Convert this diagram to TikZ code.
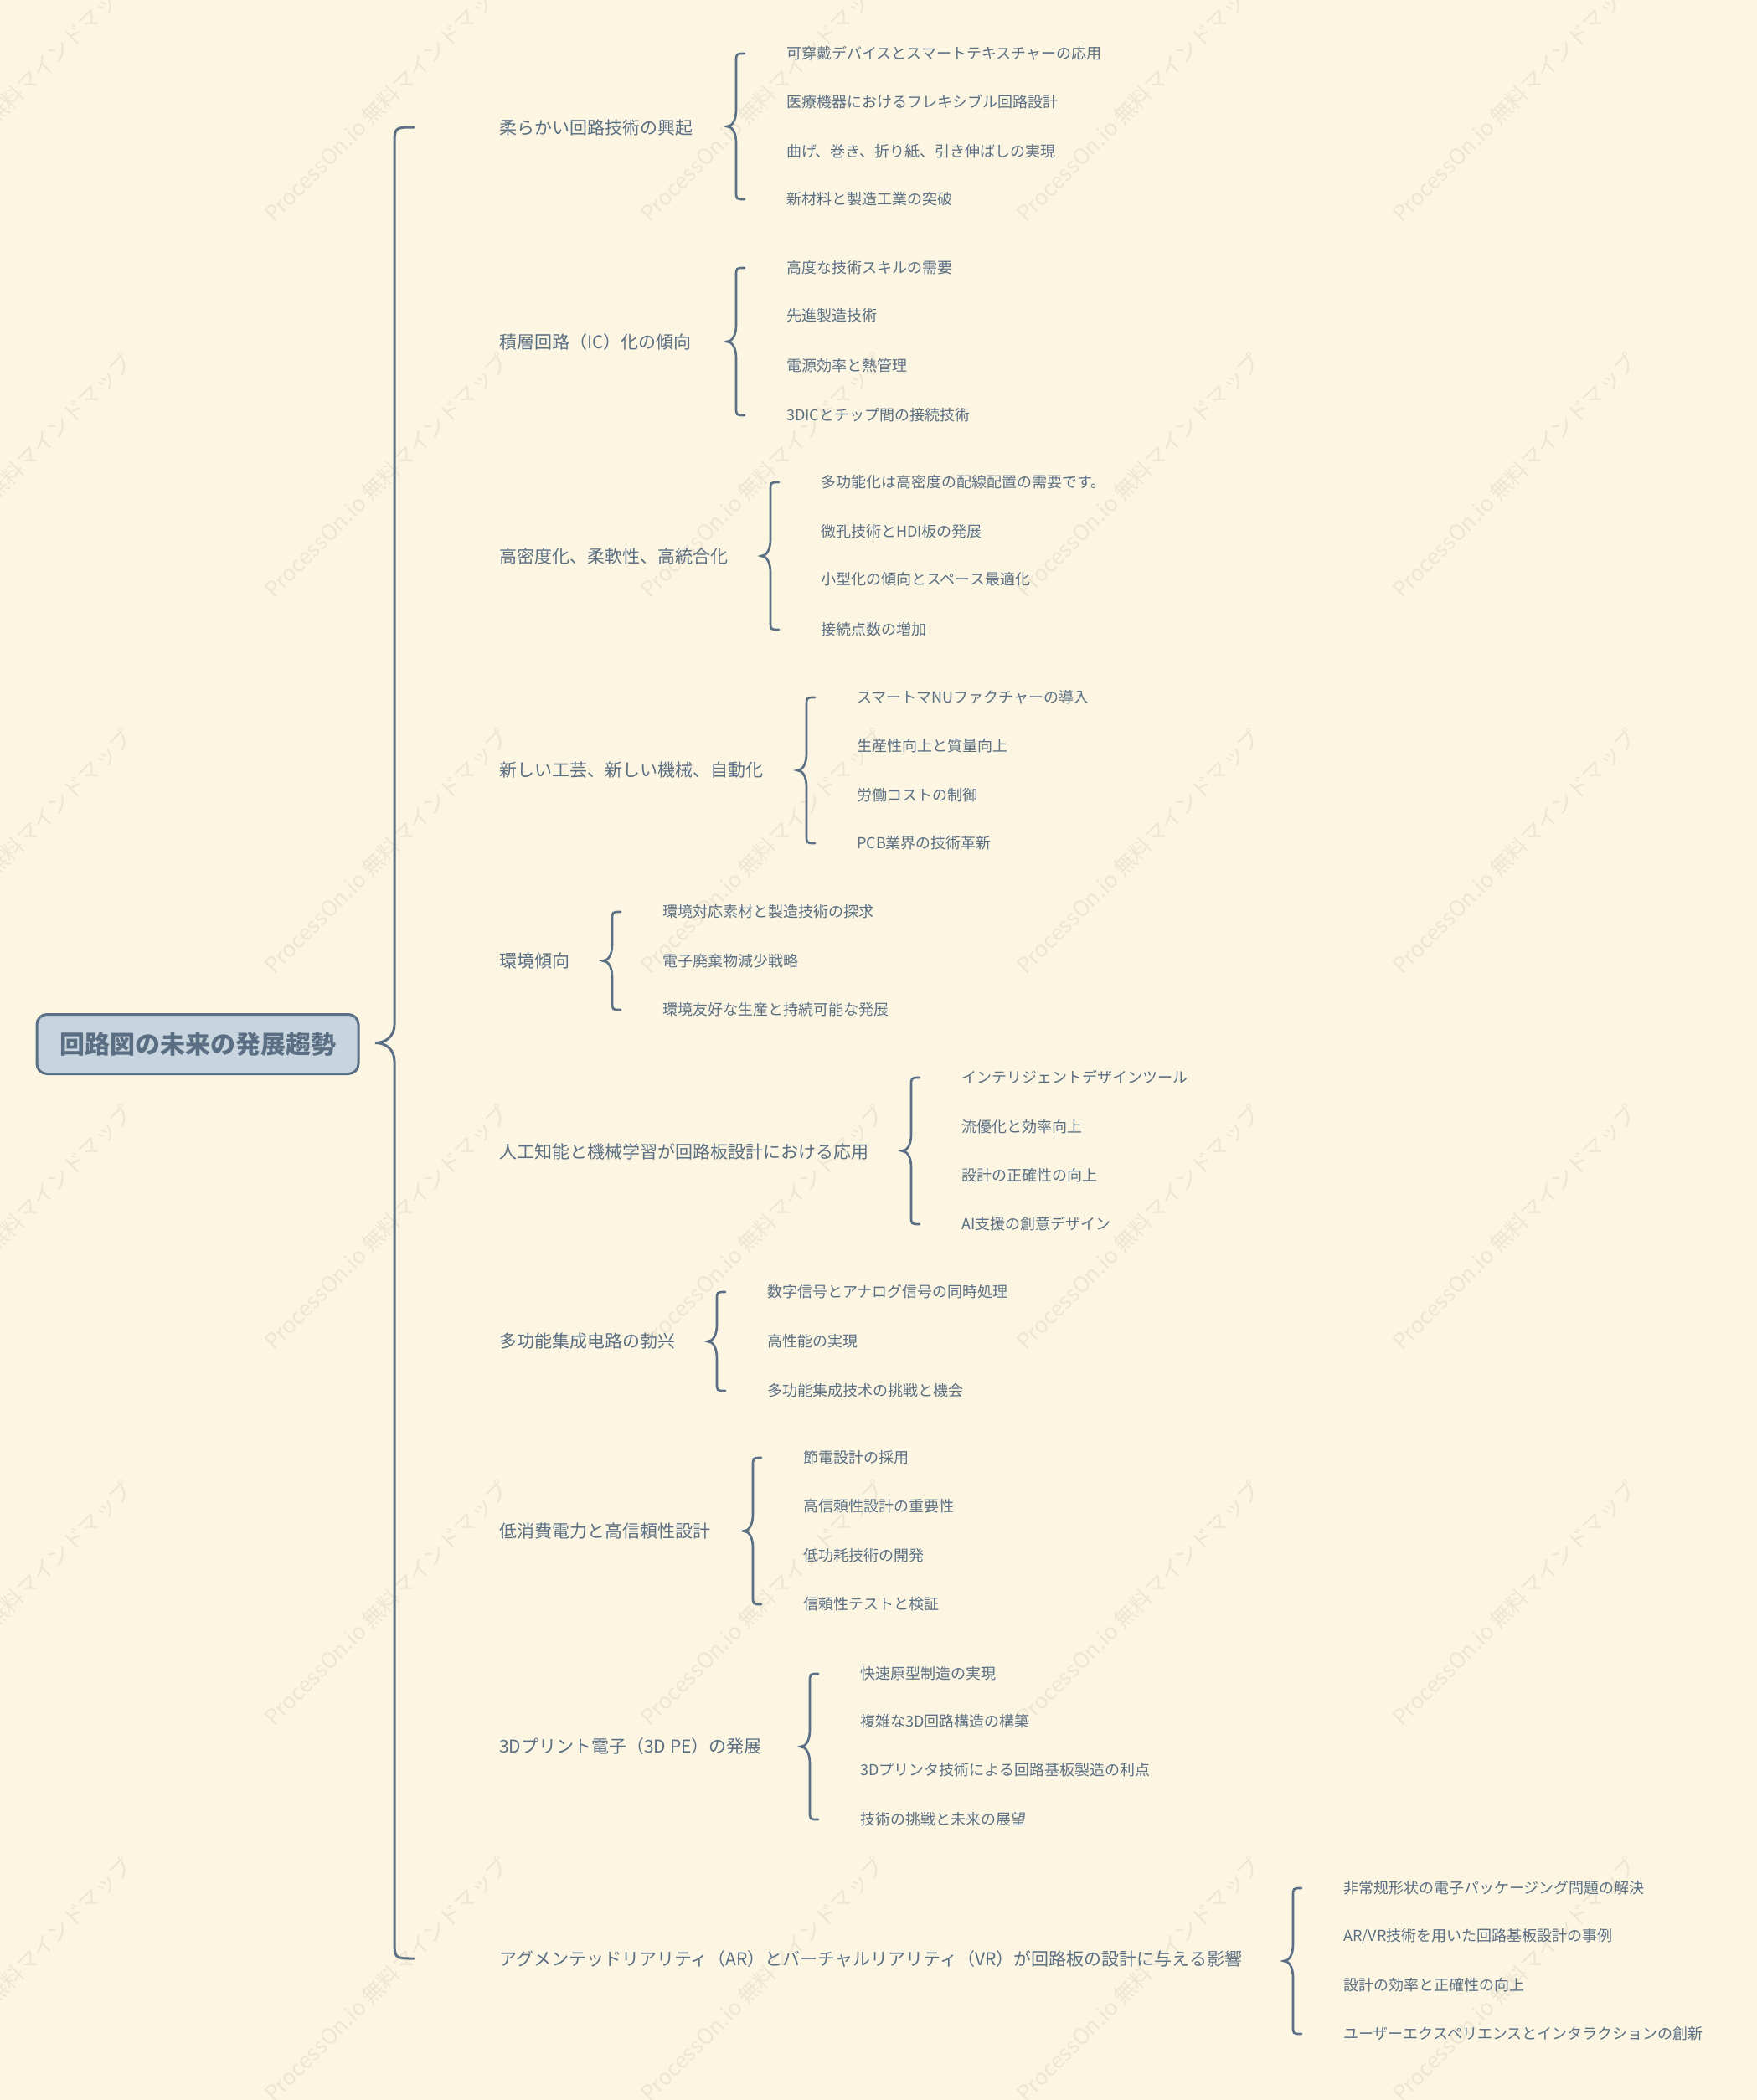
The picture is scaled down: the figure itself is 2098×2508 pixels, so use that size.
\documentclass[tikz,border=0pt]{standalone}
\usepackage{fontspec}
\setmainfont{Noto Sans CJK JP}
\usetikzlibrary{calc}
\definecolor{bgc}{HTML}{FBF5E1}
\definecolor{txc}{HTML}{5B6F84}
\definecolor{lnc}{HTML}{5B6F85}
\definecolor{rootfill}{HTML}{C8D4DE}
\definecolor{rootline}{HTML}{5A7086}
\definecolor{wmc}{HTML}{EDE6D3}
\newcommand\mybrace[6]{%
  \coordinate (bM) at ($(#1)!0.5!(#2)$);
  \draw[#6] ($(#1)+(#3,0)$) .. controls (#1) .. ($(#1)+(0,-#3)$)
    -- ($(bM)+(0,#5)$) .. controls ($(bM)+(0,0.35*#5)$) and ($(bM)+(-0.45*#4,0)$) .. ($(bM)+(-#4,0)$)
    .. controls ($(bM)+(-0.45*#4,0)$) and ($(bM)+(0,-0.35*#5)$) .. ($(bM)+(0,-#5)$)
    -- ($(#2)+(0,#3)$) .. controls (#2) .. ($(#2)+(#3,0)$);
}
\tikzset{
  rootbox/.style={draw=rootline, line width=3pt, fill=rootfill, rounded corners=12pt,
    minimum width=384pt, minimum height=71pt, inner sep=0pt, text=txc,
    text height=26.4pt, text depth=3.6pt,
    font=\fontsize{30}{36}\selectfont\bfseries},
  lvone/.style={anchor=west, inner sep=0pt, text=txc, text height=18.5pt, text depth=2.5pt,
    font=\fontsize{21}{25}\selectfont},
  lvtwo/.style={anchor=west, inner sep=0pt, text=txc, text height=15.8pt, text depth=2.2pt,
    font=\fontsize{18}{22}\selectfont},
  mainbr/.style={draw=lnc, line width=3pt, line cap=round},
  smallbr/.style={draw=lnc, line width=2.7pt, line cap=round},
  wm/.style={text=wmc, rotate=45, inner sep=0pt, font=\fontsize{26}{30}\selectfont},
}
\begin{document}
\begin{tikzpicture}[x=1pt,y=1pt]
\path[use as bounding box, fill=bgc] (0,0) rectangle (2098,-2508);
% watermark
\begin{scope}
\clip (0,0) rectangle (2098,-2508);
\foreach \i in {12,461,910,1359,1808}{
  \foreach \j in {119,568,1017,1466,1915,2364}{
    \node[wm] (wm-\i-\j) at (\i,-\j) {ProcessOn.io 無料マインドマップ};
  }
}
\end{scope}
% root
\node[rootbox] (R) at (236,-1247) {回路図の未来の発展趨勢};
% level one
\node[lvone] (L1) at (596,-152) {柔らかい回路技術の興起};
\node[lvone] (L2) at (596,-408) {積層回路（IC）化の傾向};
\node[lvone] (L3) at (596,-664) {高密度化、柔軟性、高統合化};
\node[lvone] (L4) at (596,-919) {新しい工芸、新しい機械、自動化};
\node[lvone] (L5) at (596,-1147) {環境傾向};
\node[lvone] (L6) at (596,-1375) {人工知能と機械学習が回路板設計における応用};
\node[lvone] (L7) at (596,-1601) {多功能集成电路の勃兴};
\node[lvone] (L8) at (596,-1828) {低消費電力と高信頼性設計};
\node[lvone] (L9) at (596,-2085) {3Dプリント電子（3D PE）の発展};
\node[lvone] (L10) at (596,-2339) {アグメンテッドリアリティ（AR）とバーチャルリアリティ（VR）が回路板の設計に与える影響};
% group 1
\node[lvtwo] (c1a) at (939,-64) {可穿戴デバイスとスマートテキスチャーの応用};
\node[lvtwo] (c1b) at (939,-122) {医療機器におけるフレキシブル回路設計};
\node[lvtwo] (c1c) at (939,-181) {曲げ、巻き、折り紙、引き伸ばしの実現};
\node[lvtwo] (c1d) at (939,-238) {新材料と製造工業の突破};
% group 2
\node[lvtwo] (c2a) at (939,-320) {高度な技術スキルの需要};
\node[lvtwo] (c2b) at (939,-377) {先進製造技術};
\node[lvtwo] (c2c) at (939,-437) {電源効率と熱管理};
\node[lvtwo] (c2d) at (939,-496) {3DICとチップ間の接続技術};
% group 3
\node[lvtwo] (c3a) at (980,-576) {多功能化は高密度の配線配置の需要です。};
\node[lvtwo] (c3b) at (980,-635) {微孔技術とHDI板の発展};
\node[lvtwo] (c3c) at (980,-692) {小型化の傾向とスペース最適化};
\node[lvtwo] (c3d) at (980,-752) {接続点数の増加};
% group 4
\node[lvtwo] (c4a) at (1023,-833) {スマートマNUファクチャーの導入};
\node[lvtwo] (c4b) at (1023,-891) {生産性向上と質量向上};
\node[lvtwo] (c4c) at (1023,-950) {労働コストの制御};
\node[lvtwo] (c4d) at (1023,-1007) {PCB業界の技術革新};
% group 5
\node[lvtwo] (c5a) at (791,-1089) {環境対応素材と製造技術の探求};
\node[lvtwo] (c5b) at (791,-1148) {電子廃棄物減少戦略};
\node[lvtwo] (c5c) at (791,-1206) {環境友好な生産と持続可能な発展};
% group 6
\node[lvtwo] (c6a) at (1148,-1287) {インテリジェントデザインツール};
\node[lvtwo] (c6b) at (1148,-1346) {流優化と効率向上};
\node[lvtwo] (c6c) at (1148,-1404) {設計の正確性の向上};
\node[lvtwo] (c6d) at (1148,-1462) {AI支援の創意デザイン};
% group 7
\node[lvtwo] (c7a) at (916,-1543) {数字信号とアナログ信号の同時処理};
\node[lvtwo] (c7b) at (916,-1602) {高性能の実現};
\node[lvtwo] (c7c) at (916,-1661) {多功能集成技术の挑戦と機会};
% group 8
\node[lvtwo] (c8a) at (959,-1741) {節電設計の採用};
\node[lvtwo] (c8b) at (959,-1799) {高信頼性設計の重要性};
\node[lvtwo] (c8c) at (959,-1858) {低功耗技術の開発};
\node[lvtwo] (c8d) at (959,-1916) {信頼性テストと検証};
% group 9
\node[lvtwo] (c9a) at (1027,-1999) {快速原型制造の実現};
\node[lvtwo] (c9b) at (1027,-2056) {複雑な3D回路構造の構築};
\node[lvtwo] (c9c) at (1027,-2114) {3Dプリンタ技術による回路基板製造の利点};
\node[lvtwo] (c9d) at (1027,-2173) {技術の挑戦と未来の展望};
% group 10
\node[lvtwo] (c10a) at (1604,-2255) {非常规形状の電子パッケージング問題の解決};
\node[lvtwo] (c10b) at (1604,-2312) {AR/VR技術を用いた回路基板設計の事例};
\node[lvtwo] (c10c) at (1604,-2371) {設計の効率と正確性の向上};
\node[lvtwo] (c10d) at (1604,-2429) {ユーザーエクスペリエンスとインタラクションの創新};
% main brace
\coordinate (mT) at ([xshift=-125pt]L1.west);
\coordinate (mB) at ([xshift=-125pt]L10.west);
\mybrace{mT}{mB}{23}{23}{22}{mainbr}
% small braces
\foreach \g/\last in {1/d,2/d,3/d,4/d,5/c,6/d,7/c,8/d,9/d,10/d}{
  \coordinate (t\g) at ([xshift=-60pt]c\g a.west);
  \coordinate (b\g) at ([xshift=-60pt]c\g\last.west);
  \mybrace{t\g}{b\g}{10}{11}{20}{smallbr}
}
\end{tikzpicture}
\end{document}
